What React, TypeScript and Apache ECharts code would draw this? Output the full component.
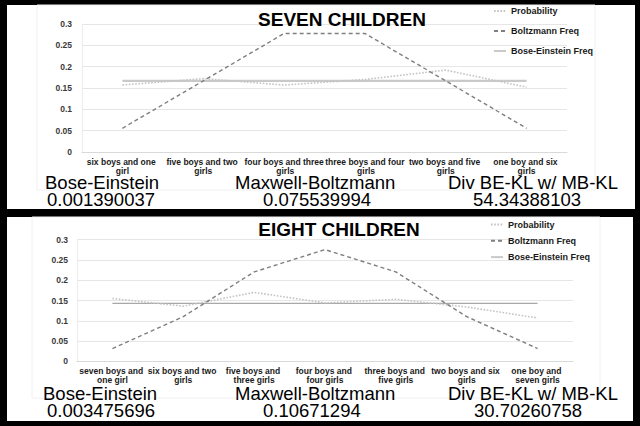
import React, { useEffect, useRef } from "react";
import * as echarts from "echarts";

const seriesNames = ["Probability", "Boltzmann Freq", "Bose-Einstein Freq"];

const sevenTitle = "SEVEN CHILDREN";
const sevenCategories = [
  "six boys and one girl",
  "five boys and two girls",
  "four boys and three girls",
  "three boys and four girls",
  "two boys and five girls",
  "one boy and six girls",
];
const sevenProbability = [0.157, 0.172, 0.157, 0.17, 0.192, 0.152];
const sevenBoltzmann = [0.0556, 0.1667, 0.2778, 0.2778, 0.1667, 0.0556];
const sevenBoseEinstein = [0.1667, 0.1667, 0.1667, 0.1667, 0.1667, 0.1667];
const sevenStatLabels = ["Bose-Einstein", "Maxwell-Boltzmann", "Div BE-KL w/ MB-KL"];
const sevenStatValues = ["0.001390037", "0.075539994", "54.34388103"];

const eightTitle = "EIGHT CHILDREN";
const eightCategories = [
  "seven boys and one girl",
  "six boys and two girls",
  "five boys and three girls",
  "four boys and four girls",
  "three boys and five girls",
  "two boys and six girls",
  "one boy and seven girls",
];
const eightProbability = [0.155, 0.136, 0.17, 0.144, 0.153, 0.134, 0.107];
const eightBoltzmann = [0.0315, 0.1102, 0.2205, 0.2756, 0.2205, 0.1102, 0.0315];
const eightBoseEinstein = [0.1429, 0.1429, 0.1429, 0.1429, 0.1429, 0.1429, 0.1429];
const eightStatLabels = ["Bose-Einstein", "Maxwell-Boltzmann", "Div BE-KL w/ MB-KL"];
const eightStatValues = ["0.003475696", "0.10671294", "30.70260758"];

const yMin = 0;
const yMax = 0.3;
const yInterval = 0.05;

const FONT = "'Liberation Sans', Arial, sans-serif";

export default function App() {
  const ref = useRef<HTMLDivElement>(null);

  useEffect(() => {
    if (!ref.current) return;
    const chart = echarts.init(ref.current, undefined, { renderer: "svg" });

    const xAxisCommon = (gridIndex: number, cats: string[], w: number) => ({
      type: "category",
      gridIndex,
      data: cats,
      boundaryGap: true,
      axisTick: { show: false },
      axisLine: { show: true, lineStyle: { color: "#d9d9d9", width: 1 } },
      axisLabel: {
        interval: 0,
        fontSize: 8.5,
        fontWeight: "bold",
        fontFamily: FONT,
        color: "#1a1a1a",
        width: w,
        overflow: "break",
        lineHeight: 9,
        margin: 5,
      },
    });

    const yAxisCommon = (gridIndex: number, margin: number) => ({
      type: "value",
      gridIndex,
      min: yMin,
      max: yMax,
      interval: yInterval,
      axisLine: { show: true, lineStyle: { color: "#ececec" } },
      axisTick: { show: false },
      splitLine: { lineStyle: { color: "#e6e6e6", width: 1 } },
      axisLabel: {
        fontSize: 8.5,
        fontWeight: "bold",
        fontFamily: FONT,
        color: "#3a3a3a",
        margin,
      },
    });

    const makeSeries = (idx: number, prob: number[], boltz: number[], be: number[], beColor: string, beWidth: number) => [
      {
        name: seriesNames[0],
        type: "line",
        xAxisIndex: idx,
        yAxisIndex: idx,
        data: prob,
        symbol: "none",
        lineStyle: { color: "#c4c4c4", width: 1.6, type: [1.6, 1.6] },
        itemStyle: { color: "#c4c4c4" },
        z: 3,
      },
      {
        name: seriesNames[1],
        type: "line",
        xAxisIndex: idx,
        yAxisIndex: idx,
        data: boltz,
        symbol: "none",
        lineStyle: { color: "#7f7f7f", width: 1.4, type: [4, 3] },
        itemStyle: { color: "#7f7f7f" },
        z: 4,
      },
      {
        name: seriesNames[2],
        type: "line",
        xAxisIndex: idx,
        yAxisIndex: idx,
        data: be,
        symbol: "none",
        lineStyle: { color: beColor, width: beWidth, type: "solid" },
        itemStyle: { color: beColor },
        z: 2,
      },
    ];

    const statTexts = (labels: string[], values: string[], labelLeft: number[], valueLeft: number[], yLabel: number, yValue: number) => {
      const out: any[] = [];
      labels.forEach((t, i) => {
        out.push({
          type: "text",
          x: labelLeft[i],
          y: yLabel,
          style: { text: t, fill: "#000", font: `18.5px ${FONT}`, align: "left", verticalAlign: "middle" },
          z: 10,
        });
      });
      values.forEach((t, i) => {
        out.push({
          type: "text",
          x: valueLeft[i],
          y: yValue,
          style: { text: t, fill: "#000", font: `18.5px ${FONT}`, align: "left", verticalAlign: "middle" },
          z: 10,
        });
      });
      return out;
    };

    const legendCommon = {
      orient: "vertical",
      itemWidth: 12,
      itemHeight: 8,
      itemGap: 10,
      icon: undefined,
      itemStyle: { opacity: 0 },
      textStyle: { fontSize: 9, fontWeight: "bold", fontFamily: FONT, color: "#1a1a1a", lineHeight: 10 },
      data: seriesNames,
      selectedMode: false,
    };

    chart.setOption({
      animation: false,
      backgroundColor: "#000000",
      title: [
        {
          text: sevenTitle,
          left: 342,
          textAlign: "center",
          top: 10,
          padding: 0,
          textStyle: { fontSize: 19, fontWeight: "bold", fontFamily: FONT, color: "#000" },
        },
        {
          text: eightTitle,
          left: 339,
          textAlign: "center",
          top: 220,
          padding: 0,
          textStyle: { fontSize: 19, fontWeight: "bold", fontFamily: FONT, color: "#000" },
        },
      ],
      legend: [
        { ...legendCommon, left: 493, top: 6, itemGap: 10, padding: 0 },
        { ...legendCommon, left: 490, top: 219.5, itemGap: 6.3, padding: 0 },
      ],
      grid: [
        { left: 82, right: 73, top: 24, bottom: 274 },
        { left: 77, right: 67, top: 239.7, bottom: 64.7 },
      ],
      xAxis: [xAxisCommon(0, sevenCategories, 81), xAxisCommon(1, eightCategories, 71)],
      yAxis: [yAxisCommon(0, 10), yAxisCommon(1, 9)],
      series: [
        ...makeSeries(0, sevenProbability, sevenBoltzmann, sevenBoseEinstein, "#c9c9c9", 2.2),
        ...makeSeries(1, eightProbability, eightBoltzmann, eightBoseEinstein, "#a8a8a8", 1.4),
      ],
      graphic: [
        { type: "rect", z: -100, shape: { x: 7, y: 5, width: 628, height: 204 }, style: { fill: "#ffffff" } },
        { type: "rect", z: -100, shape: { x: 7, y: 217, width: 626, height: 204 }, style: { fill: "#ffffff" } },
        { type: "rect", z: -99, shape: { x: 37, y: 5, width: 558, height: 185 }, style: { fill: "none", stroke: "#f0f0f0", lineWidth: 1 } },
        { type: "rect", z: -99, shape: { x: 32, y: 217, width: 568, height: 181 }, style: { fill: "none", stroke: "#f0f0f0", lineWidth: 1 } },
        ...statTexts(sevenStatLabels, sevenStatValues, [45, 235, 448], [47, 263, 473], 182, 199),
        ...statTexts(eightStatLabels, eightStatValues, [43, 235, 448], [47, 263, 474], 393, 410),
      ],
    });

    return () => chart.dispose();
  }, []);

  return (
    <div
      ref={ref}
      style={{ position: "fixed", left: 0, top: 0, width: 640, height: 426, background: "#000" }}
    />
  );
}
